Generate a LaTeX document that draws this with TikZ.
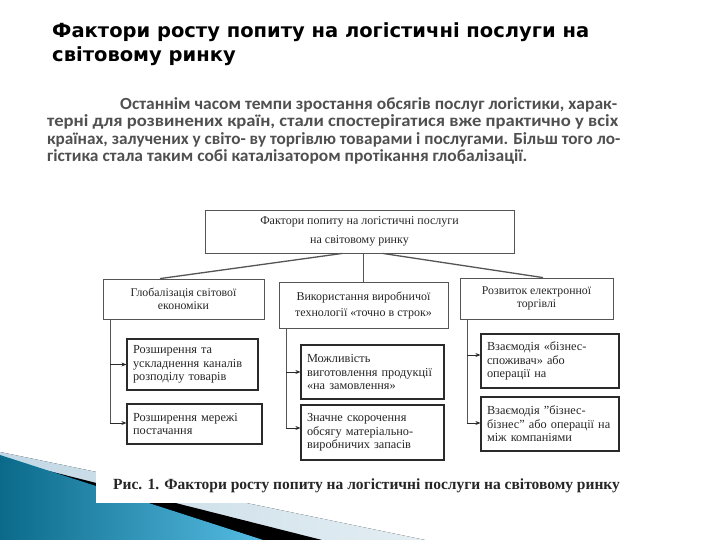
\documentclass[tikz,border=0pt]{standalone}
\usepackage{fontspec}
\usepackage{graphicx}
\setmainfont{Liberation Serif}
\newfontfamily\titlefont{DejaVu Sans}
\newfontfamily\parafont{Carlito}
\usetikzlibrary{arrows.meta}
\definecolor{boxgray}{HTML}{555555}
\definecolor{boxdark}{HTML}{2A2A2A}
\definecolor{txt}{HTML}{262626}
\definecolor{paragray}{HTML}{505050}
\definecolor{tealdark}{HTML}{0B6A8A}
\definecolor{teallight}{HTML}{56BCE3}
\definecolor{lightblue}{HTML}{C2D8E5}
\definecolor{lightblue2}{HTML}{E4EEF3}
\begin{document}
\begin{tikzpicture}[x=1pt,y=-1pt,
  txtline/.style={inner sep=0pt, anchor=base west},
  topbox/.style={draw=boxgray, line width=0.8pt, fill=white, inner sep=0pt, align=center, text=txt},
  kidbox/.style={draw=boxdark, line width=1.2pt, fill=white, inner xsep=6pt, inner ysep=0pt, align=left, text=txt,
     font=\fontsize{12.3}{13.6}\selectfont},
  link/.style={draw=boxgray, line width=1.3pt},
  trunk/.style={draw=boxgray, line width=1pt},
  arr/.style={draw=boxdark, line width=0.9pt, -{Stealth[length=5pt,width=4pt]}}
]
\useasboundingbox (0,0) rectangle (720,540);
\fill[white] (0,0) rectangle (720,540);

% decorative wedge
\fill[left color=lightblue, right color=lightblue2] (0,452) -- (425,540) -- (0,540) -- cycle;
\fill[black] (45,470) -- (322,540) -- (262,540) -- cycle;
\shade[left color=tealdark, right color=teallight] (0,455) -- (263,540) -- (0,540) -- cycle;

% white figure area
\fill[white] (96,185) rectangle (640,503);

% title
\node[txtline, font=\titlefont\bfseries\fontsize{19.5}{22}\selectfont] (t1) at (52,38) {Фактори росту попиту на логістичні послуги на};
\node[txtline, font=\titlefont\bfseries\fontsize{19.5}{22}\selectfont] (t2) at (52,62) {світовому ринку};

% paragraph
\tikzset{ptxt/.style={txtline, text=paragray, font=\parafont\bfseries\fontsize{17}{18}\selectfont}}
\node[ptxt] (p1) at (120,110) {\resizebox{497pt}{\height}{Останнім часом темпи зростання обсягів послуг логістики, харак-}};
\node[ptxt] (p2) at (47,127) {\resizebox{571pt}{\height}{терні для розвинених країн, стали спостерігатися вже практично у всіх}};
\node[ptxt] (p3) at (47,145) {\resizebox{573pt}{\height}{країнах, залучених у світо- ву торгівлю товарами і послугами. Більш того ло-}};
\node[ptxt] (p4) at (47,162) {\resizebox{480pt}{\height}{гістика стала таким собі каталізатором протікання глобалізації.}};

% top box
\node[topbox, minimum width=309pt, minimum height=43pt, font=\fontsize{12}{19}\selectfont] (top) at (359.5,231.5)
  {Фактори попиту на логістичні послуги\\на світовому ринку};

% level 1
\node[topbox, minimum width=161pt, minimum height=40pt, font=\fontsize{11.8}{13.5}\selectfont] (glob) at (183.5,299)
  {Глобалізація світової\\економіки};
\node[topbox, minimum width=169pt, minimum height=46pt, font=\fontsize{12}{16}\selectfont] (jit) at (363.5,305)
  {Використання виробничої\\технології «точно в строк»};
\node[topbox, minimum width=153pt, minimum height=41pt, font=\fontsize{11.8}{13.5}\selectfont] (ecom) at (536.5,298.5)
  {Розвиток електронної\\торгівлі};

% children
\node[kidbox, text width=119pt, minimum height=51pt] (lc1) at (192.5,364.5)
  {Розширення та\\ускладнення каналів\\розподілу товарів};
\node[kidbox, text width=123pt, minimum height=40pt] (lc2) at (194.5,424)
  {Розширення мережі\\постачання};
\node[kidbox, text width=131pt, minimum height=54pt] (mc1) at (372.5,372)
  {Можливість\\виготовлення продукції\\«на замовлення»};
\node[kidbox, text width=131pt, minimum height=55pt] (mc2) at (372.5,432.5)
  {Значне скорочення\\обсягу матеріально-\\виробничих запасів};
\node[kidbox, text width=126pt, minimum height=54pt] (rc1) at (550,361)
  {Взаємодія «бізнес-\\споживач» або\\операції на};
\node[kidbox, text width=126pt, minimum height=54pt] (rc2) at (550,424)
  {Взаємодія "бізнес-\\бізнес" або операції на\\між компаніями};

% top connectors
\draw[link] ([xshift=-17pt]top.south) -- ([xshift=-23.5pt]glob.north);
\draw[link] (top.south -| jit.north) -- (jit.north);
\draw[link] ([xshift=23pt]top.south) -- ([xshift=6.5pt]ecom.north);

% trunks
\coordinate (lt) at (110,319);
\coordinate (lb) at (110,423);
\coordinate (mt) at (286,328);
\coordinate (mb) at (286,428);
\coordinate (rt) at (467,319);
\coordinate (rb) at (467,423);
\draw[trunk] (lt) -- (lb);
\draw[trunk] (mt) -- (mb);
\draw[trunk] (rt) -- (rb);

\draw[arr] (lt |- lc1.west) -- (lc1.west);
\draw[arr] (lb) -- (lb -| lc2.west);
\draw[arr] (mt |- mc1.west) -- (mc1.west);
\draw[arr] (mb) -- (mb -| mc2.west);
\draw[arr] (rt |- 0,355) -- (rc1.west |- 0,355);
\draw[arr] (rb) -- (rb -| rc2.west);

% caption
\node[txtline, font=\bfseries\fontsize{15.5}{17}\selectfont, text=txt] (cap) at (113,489)
  {Рис. 1. Фактори росту попиту на логістичні послуги на світовому ринку};
\end{tikzpicture}
\end{document}
